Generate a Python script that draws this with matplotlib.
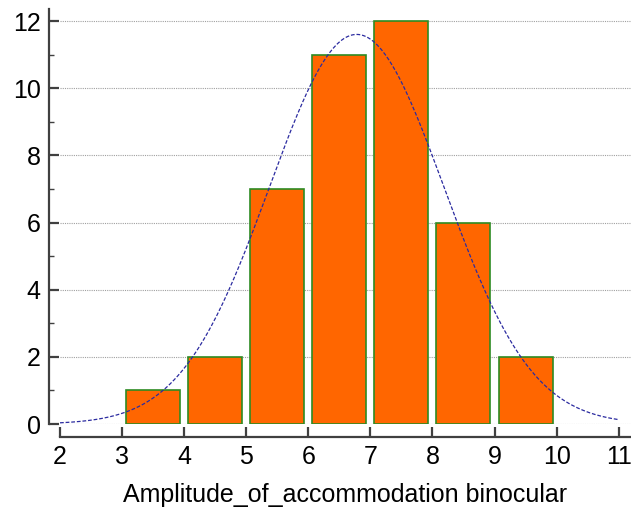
import matplotlib.pyplot as plt
import numpy as np

# histogram bins (lower edges) and counts
bin_left = [3, 4, 5, 6, 7, 8, 9]
counts = [1, 2, 7, 11, 12, 6, 2]
bin_width = 1.0

# fitted normal curve parameters
curve_mean = 6.78
curve_sd = 1.41
curve_range = (2, 11)

x_ticks = [2, 3, 4, 5, 6, 7, 8, 9, 10, 11]
y_ticks = [0, 2, 4, 6, 8, 10, 12]
x_label = "Amplitude_of_accommodation binocular"

plt.rcParams['font.family'] = ['Liberation Sans', 'DejaVu Sans']

fig = plt.figure(figsize=(6.31, 5.14), dpi=100)
ax = fig.add_axes([0.0951, 0.175, 0.905, 0.807])

ax.yaxis.grid(True, linestyle=(0, (1, 1)), color="#a0a0a0", linewidth=0.8)
ax.set_axisbelow(True)

centers = np.array(bin_left) + bin_width / 2
ax.bar(centers, counts, width=bin_width * 0.87, color="#FF6600",
       edgecolor="#2E8B22", linewidth=1.2, zorder=2)

n_total = sum(counts)
xs = np.linspace(curve_range[0], curve_range[1], 300)
ys = n_total * bin_width / (curve_sd * np.sqrt(2 * np.pi)) * np.exp(-0.5 * ((xs - curve_mean) / curve_sd) ** 2)
ax.plot(xs, ys, linestyle=(0, (3, 1.5)), color="#2b2ba0", linewidth=0.9, zorder=3)

ax.set_xlim(2, 11.2)
ax.set_ylim(0, 12.35)
ax.set_xticks(x_ticks)
ax.set_yticks(y_ticks)
ax.set_yticks([1, 3, 5, 7, 9, 11], minor=True)

for side in ["top", "right"]:
    ax.spines[side].set_visible(False)
for side in ["left", "bottom"]:
    ax.spines[side].set_color("#404040")
    ax.spines[side].set_linewidth(1.6)
ax.spines["left"].set_position(("outward", 8))
ax.spines["bottom"].set_position(("outward", 9))

ax.tick_params(axis="both", which="major", direction="in", length=7.5, width=1.6,
               color="#404040", labelsize=18, pad=6)
ax.tick_params(axis="y", which="minor", direction="in", length=3.5, width=1.0, color="#404040")
ax.set_xlabel(x_label, fontsize=18, labelpad=10)

fig.savefig("out.png", dpi=100)
